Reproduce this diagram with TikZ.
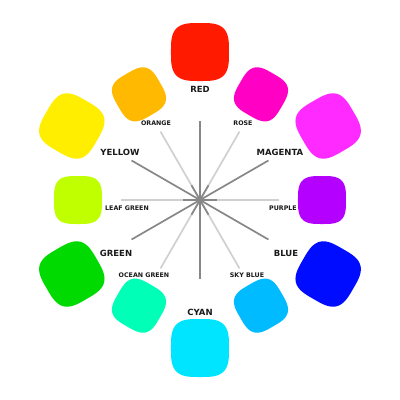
\documentclass[tikz,border=0pt]{standalone}
\usepackage{fontspec}
\setmainfont{DejaVu Sans}
\definecolor{cRed}{RGB}{255,26,0}
\definecolor{cOrange}{RGB}{255,185,0}
\definecolor{cYellow}{RGB}{255,238,0}
\definecolor{cRose}{RGB}{255,0,196}
\definecolor{cMagenta}{RGB}{255,42,255}
\definecolor{cPurple}{RGB}{180,0,255}
\definecolor{cBlue}{RGB}{0,12,255}
\definecolor{cSky}{RGB}{0,187,255}
\definecolor{cCyan}{RGB}{0,229,255}
\definecolor{cOcean}{RGB}{0,255,183}
\definecolor{cGreen}{RGB}{0,218,0}
\definecolor{cLeaf}{RGB}{192,255,0}
\definecolor{darkline}{RGB}{135,135,135}
\definecolor{lightline}{RGB}{208,208,208}
\definecolor{txt}{RGB}{25,25,25}
\newcommand\swatch[4]{%
  \fill[#1, shift={(#2:#3)}, rotate=#2-90]
    plot[domain=1.25:358.75, samples=144, variable=\t]
      ({#4*sign(cos(\t))*(abs(cos(\t))^0.6)}, {#4*sign(sin(\t))*(abs(sin(\t))^0.6)}) -- cycle;}
\tikzset{
  mainlab/.style={text=txt, inner sep=0pt, font=\fontsize{8.5}{10}\selectfont\bfseries},
  sublab/.style={text=txt, inner sep=0pt, font=\fontsize{6.3}{8}\selectfont\bfseries},
  mainline/.style={draw=darkline, line width=1.7pt},
  subline/.style={draw=lightline, line width=1.7pt},
}
\begin{document}
\begin{tikzpicture}[x=1pt, y=1pt]
\useasboundingbox (-200,-200) rectangle (200,200);
\fill[white] (-200,-200) rectangle (200,200);
% swatches
\swatch{cRed}{90}{148}{29}
\swatch{cMagenta}{30}{148}{29}
\swatch{cBlue}{-30}{148}{29}
\swatch{cCyan}{-90}{148}{29}
\swatch{cGreen}{-150}{148}{29}
\swatch{cYellow}{150}{148}{29}
\swatch{cRose}{60}{122}{24}
\swatch{cPurple}{0}{122}{24}
\swatch{cSky}{-60}{122}{24}
\swatch{cOcean}{-120}{122}{24}
\swatch{cLeaf}{180}{122}{24}
\swatch{cOrange}{120}{122}{24}
% lines
\coordinate (O) at (0,0);
\foreach \a/\n in {60/pr,0/pu,-60/ps,-120/po,180/pl,120/pg}{
  \coordinate (\n) at (\a:79);
  \coordinate (\n i) at (\a:17);
  \draw[subline] (O) -- (\n);
  \draw[mainline] (O) -- (\n i);
}
\foreach \a/\n in {90/qr,30/qm,-30/qb,-90/qc,-150/qg,150/qy}{
  \coordinate (\n) at (\a:79);
  \draw[mainline] (O) -- (\n);
}
\fill[darkline] (O) circle (3);
% labels
\node[mainlab] (lred) at (0,111) {RED};
\node[mainlab] (lyellow) at (-80,48) {YELLOW};
\node[mainlab] (lmagenta) at (80,48) {MAGENTA};
\node[mainlab] (lgreen) at (-84,-53) {GREEN};
\node[mainlab] (lblue) at (86,-53) {BLUE};
\node[mainlab] (lcyan) at (0,-112) {CYAN};
\node[sublab] (lorange) at (-44,77) {ORANGE};
\node[sublab] (lrose) at (43,77) {ROSE};
\node[sublab] (lleaf) at (-73,-8) {LEAF GREEN};
\node[sublab] (lpurple) at (83,-8) {PURPLE};
\node[sublab] (locean) at (-56,-75) {OCEAN GREEN};
\node[sublab] (lsky) at (47,-75) {SKY BLUE};
\end{tikzpicture}
\end{document}
